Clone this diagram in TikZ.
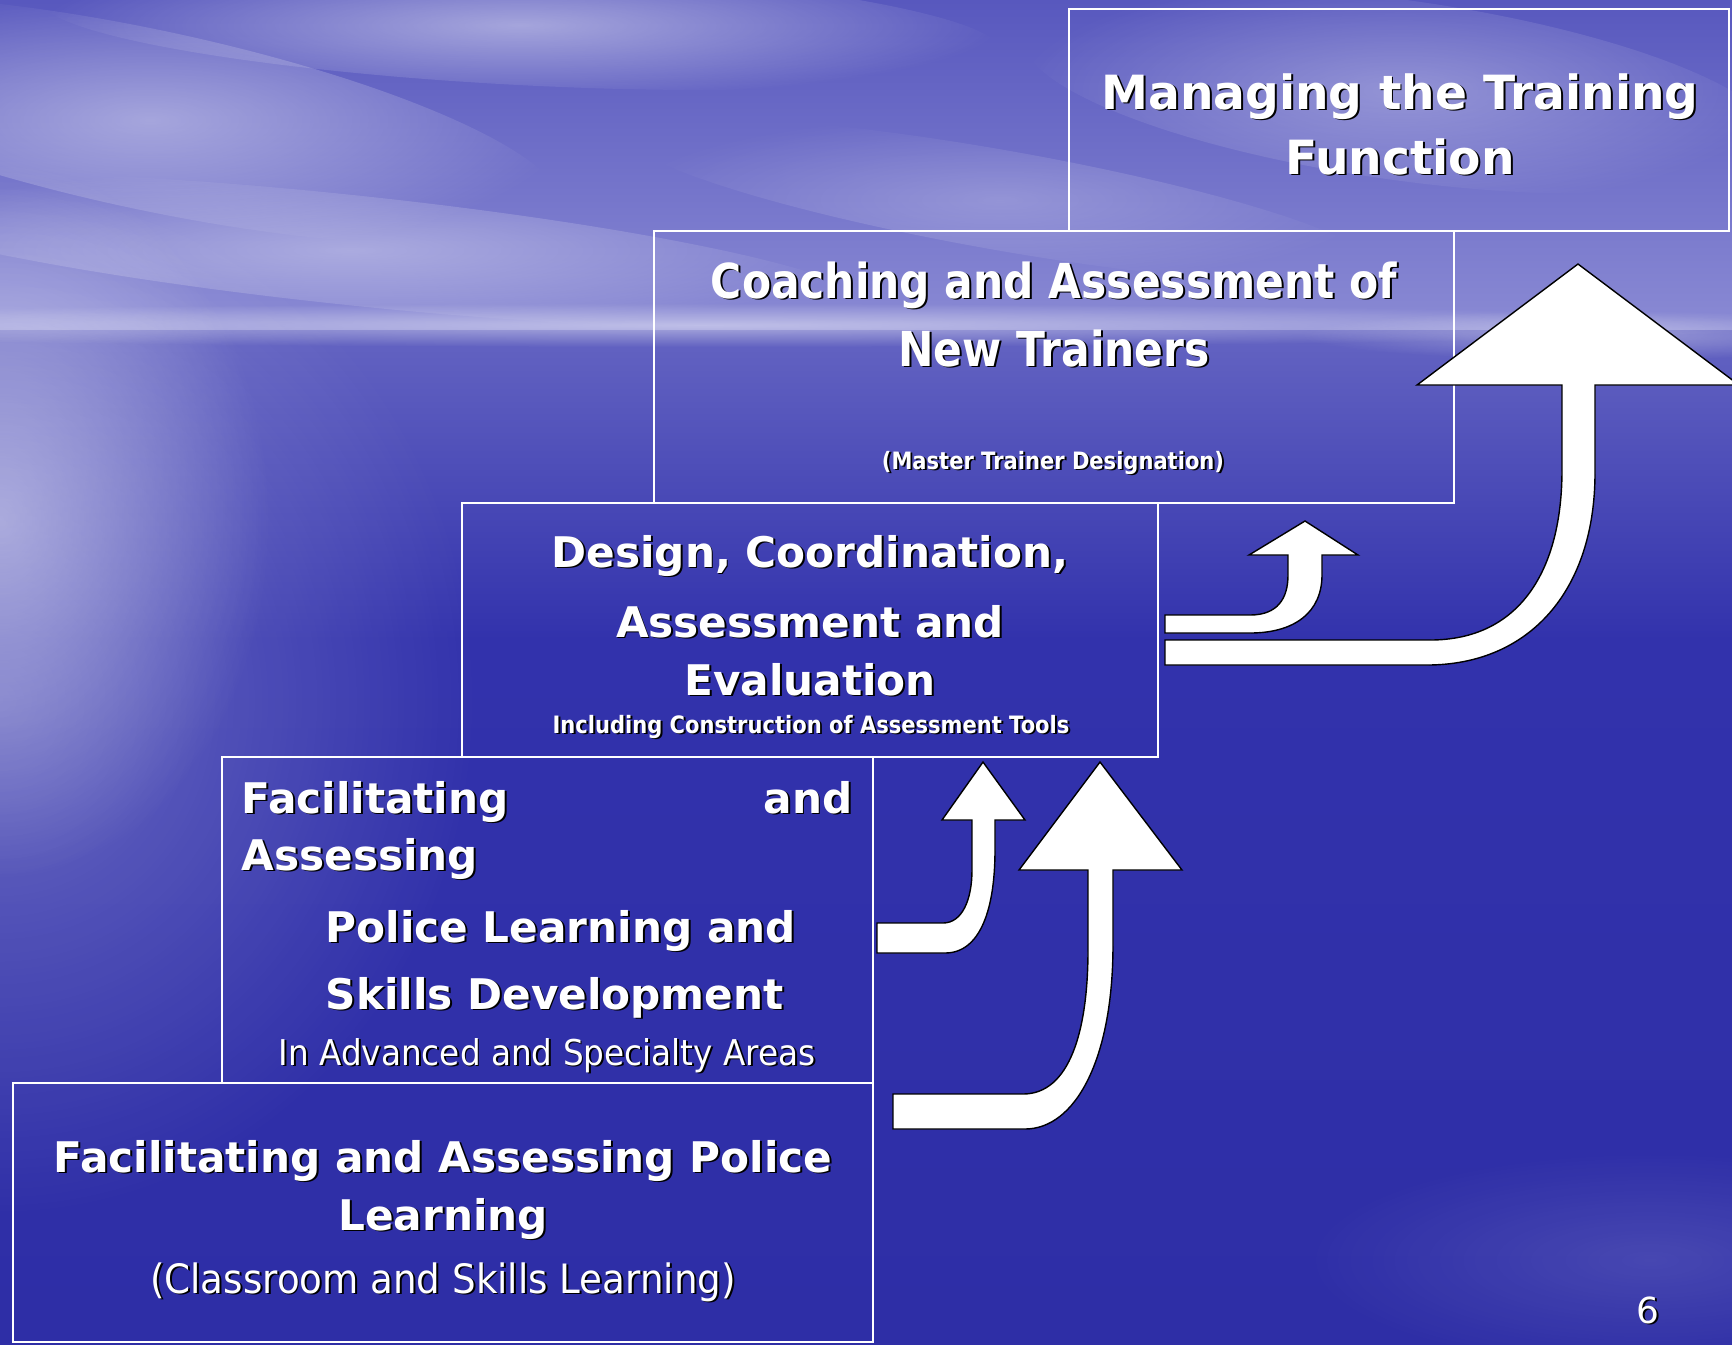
\documentclass[tikz,border=0pt]{standalone}
\usepackage{fontspec}
\setmainfont{DejaVu Sans}
\newfontfamily\narrowfont[FakeStretch=0.88]{DejaVu Sans}
\newfontfamily\slimfont[FakeStretch=0.92]{DejaVu Sans}
\usepackage{tikz}
\usetikzlibrary{fadings}

\definecolor{skytop}{RGB}{88,88,190}
\definecolor{skyhor}{RGB}{138,138,212}
\definecolor{seatop}{RGB}{100,100,194}
\definecolor{seamid}{RGB}{50,50,172}
\definecolor{seabot}{RGB}{46,46,166}

\tikzfading[name=glow, inner color=transparent!0, outer color=transparent!100]

\newcommand{\stagebox}[4]{\draw[white, line width=0.7pt] ( #1 , #2 ) rectangle ( #3 , #4 );}
\newcommand{\cloud}[6]{\begin{scope}[shift={( #1 , #2 )}, rotate=#5] \fill[white, fill opacity=#6, path fading=glow] (0,0) ellipse ( #3 and #4 ); \end{scope}}
\newcommand{\shd}[1]{\makebox[0pt][l]{\kern0.55pt\raisebox{-0.55pt}{\color{black}#1}}#1}

\begin{document}
\begin{tikzpicture}[x=0.01cm, y=-0.01cm,
    lbl/.style={text=white, inner sep=0pt, anchor=base},
    main/.style={lbl, font=\bfseries\fontsize{12}{14}\selectfont},
    narrow/.style={lbl, font=\narrowfont\bfseries\fontsize{13.7}{16}\selectfont},
    tiny/.style={lbl, font=\narrowfont\bfseries\fontsize{6.8}{8}\selectfont},
    blockarrow/.style={fill=white, draw=black, line width=0.4pt}]
    \clip (0,0) rectangle (1732,1344);
    % sky and sea
    \shade[top color=skytop, bottom color=skyhor] (0,0) rectangle (1732,330);
    \shade[top color=seatop, bottom color=seamid] (0,330) rectangle (1732,640);
    \shade[top color=seamid, bottom color=seabot] (0,639) rectangle (1732,1344);
    \cloud{520}{25}{480}{60}{-3}{0.45}
    \cloud{150}{120}{420}{90}{-12}{0.40}
    \cloud{350}{250}{520}{55}{-6}{0.35}
    \cloud{1400}{90}{380}{90}{-8}{0.30}
    \cloud{1000}{200}{380}{50}{-10}{0.22}
    \cloud{700}{325}{1100}{22}{0}{0.45}
    \cloud{1600}{335}{300}{25}{0}{0.35}
    \cloud{0}{520}{270}{360}{0}{0.45}
    \cloud{0}{700}{480}{520}{0}{0.28}
    \cloud{1650}{1260}{350}{110}{0}{0.12}
    % stage 5
    \stagebox{1069}{9}{1729}{231}
    % stage 4
    \stagebox{654}{231}{1454}{503}
    % stage 3
    \stagebox{462}{503}{1158}{757}
    % stage 2
    \stagebox{222}{757}{873}{1083}
    % stage 1
    \stagebox{13}{1083}{873}{1342}
    % arrows
    \filldraw[blockarrow] (1165,615) -- (1250,615) .. controls (1278,615) and (1288,598) .. (1288,575)
        -- (1288,555) -- (1249,555) -- (1305,521) -- (1358,555) -- (1322,555) -- (1322,575)
        .. controls (1322,612) and (1295,633) .. (1250,633) -- (1165,633) -- cycle;
    \filldraw[blockarrow] (1165,640) -- (1430,640) .. controls (1520,640) and (1562,570) .. (1562,470)
        -- (1562,385) -- (1417,385) -- (1578,264) -- (1739,385) -- (1595,385) -- (1595,473)
        .. controls (1595,590) and (1530,665) .. (1427,665) -- (1165,665) -- cycle;
    \filldraw[blockarrow] (877,923) -- (943,923) .. controls (962,923) and (972,900) .. (972,870)
        -- (972,820) -- (942,820) -- (983,762) -- (1025,820) -- (995,820) -- (995,850)
        .. controls (995,910) and (980,953) .. (945,953) -- (877,953) -- cycle;
    \filldraw[blockarrow] (893,1094) -- (1023,1094) .. controls (1070,1094) and (1088,1030) .. (1088,950)
        -- (1088,870) -- (1019,870) -- (1100,762) -- (1182,870) -- (1113,870) -- (1113,945)
        .. controls (1113,1060) and (1075,1129) .. (1025,1129) -- (893,1129) -- cycle;
    % stage 5 text
    \node[lbl, font=\bfseries\fontsize{13.4}{15}\selectfont] (manage1) at (1400,109) {\shd{Managing the Training}};
    \node[lbl, font=\bfseries\fontsize{13.4}{15}\selectfont] (manage2) at (1400,174) {\shd{Function}};
    % stage 4 text
    \node[narrow] (coach1) at (1054,298) {\shd{Coaching and Assessment of}};
    \node[narrow] (coach2) at (1054,366) {\shd{New Trainers}};
    \node[tiny] (coach3) at (1053,469) {\shd{(Master Trainer Designation)}};
    % stage 3 text
    \node[main] (design1) at (810,567) {\shd{Design, Coordination,}};
    \node[main] (design2) at (810,637) {\shd{Assessment and}};
    \node[main] (design3) at (810,695) {\shd{Evaluation}};
    \node[tiny] (design4) at (811,733) {\shd{Including Construction of Assessment Tools}};
    % stage 2 text
    \node[main, anchor=base west] (adv1) at (241,813) {\shd{Facilitating}};
    \node[main, anchor=base east] (adv2) at (853,813) {\shd{and}};
    \node[main, anchor=base west] (adv3) at (241,870) {\shd{Assessing}};
    \node[main, anchor=base west] (adv4) at (325,942) {\shd{Police Learning and}};
    \node[main, anchor=base west] (adv5) at (325,1009) {\shd{Skills Development}};
    \node[lbl, font=\slimfont\fontsize{10.1}{12}\selectfont] (adv6) at (547,1065) {\shd{In Advanced and Specialty Areas}};
    % stage 1 text
    \node[main] (base1) at (443,1172) {\shd{Facilitating and Assessing Police}};
    \node[main] (base2) at (443,1230) {\shd{Learning}};
    \node[lbl, font=\slimfont\fontsize{11.5}{13}\selectfont] (base3) at (443,1293) {\shd{(Classroom and Skills Learning)}};
    % page number
    \node[lbl, font=\fontsize{10.2}{12}\selectfont] (page) at (1648,1323) {\shd{6}};
\end{tikzpicture}
\end{document}
